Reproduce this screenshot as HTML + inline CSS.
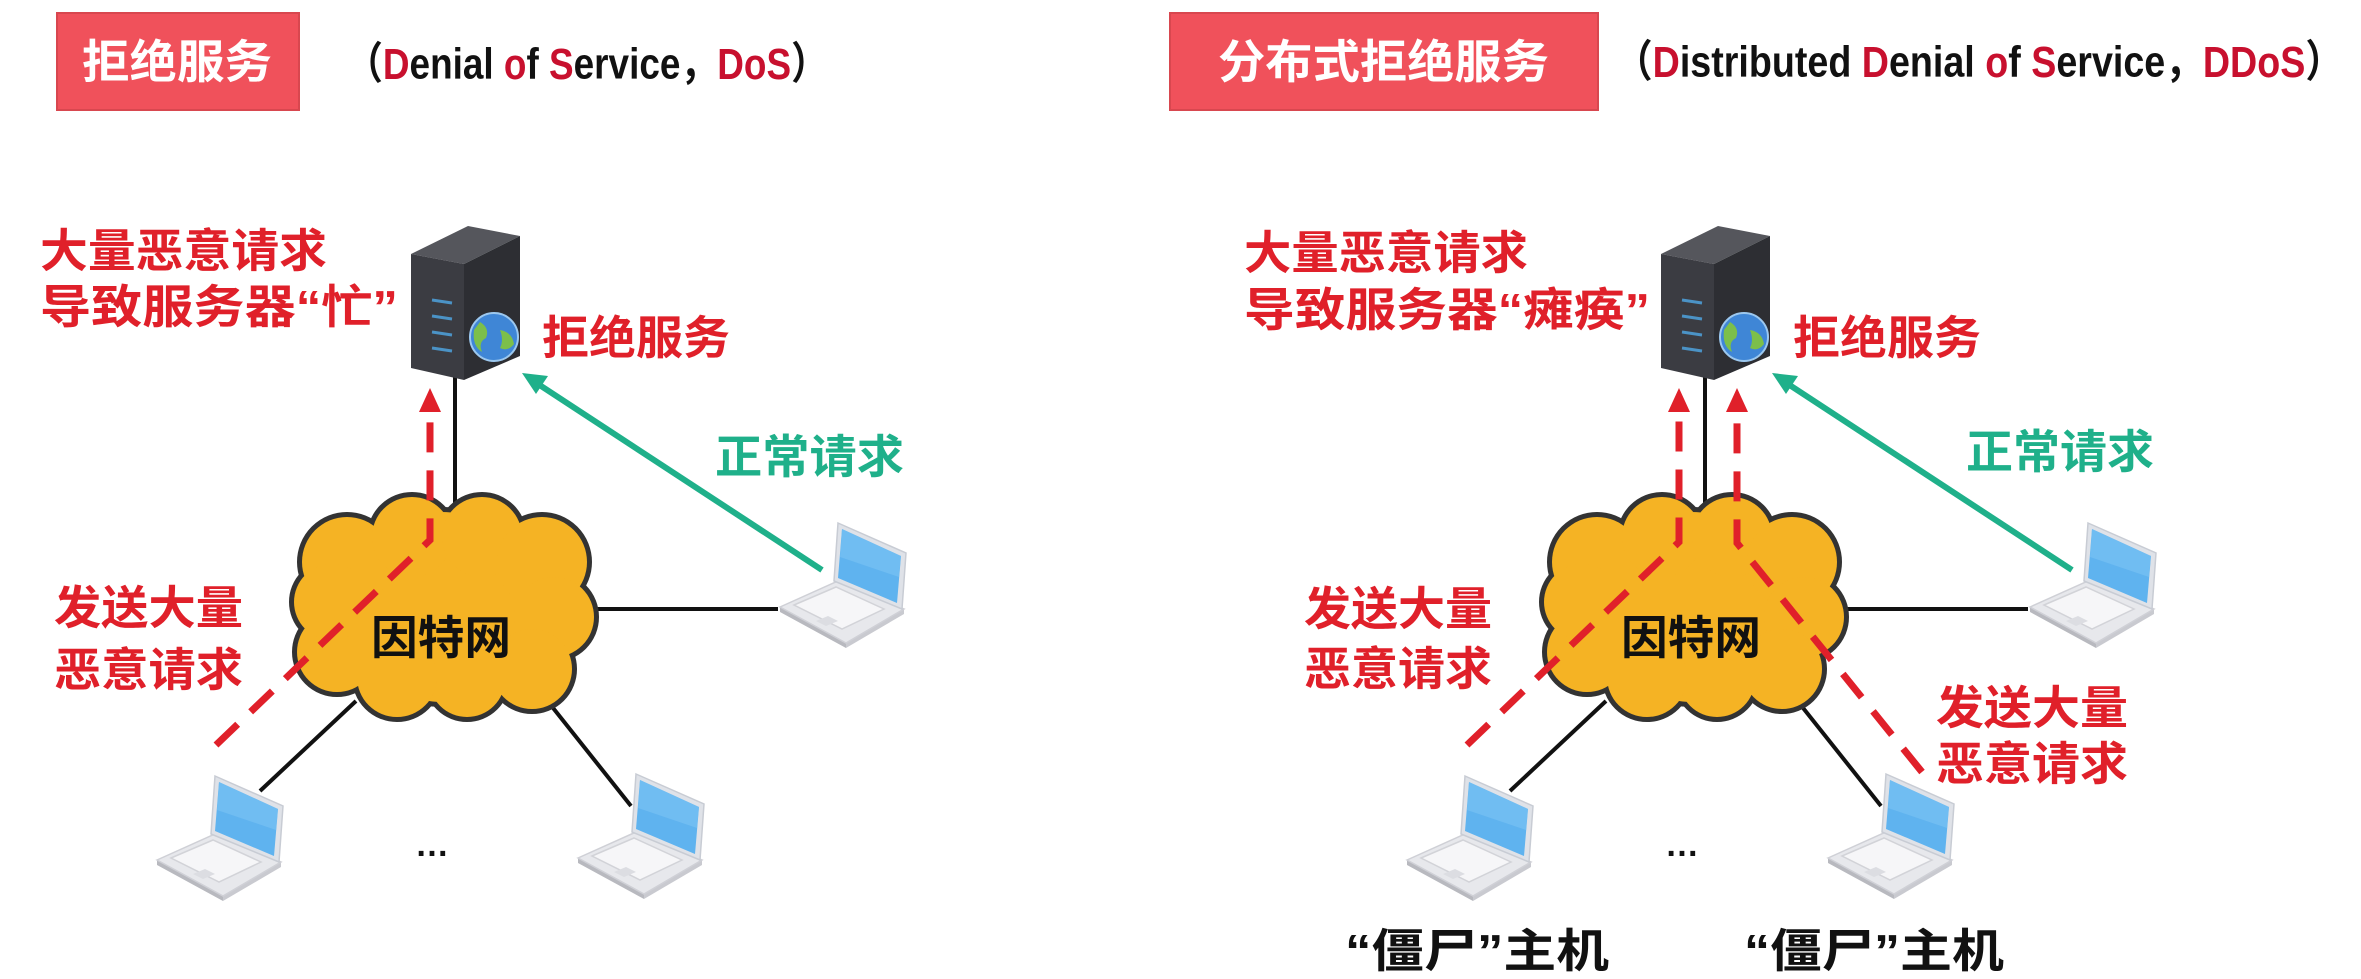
<!DOCTYPE html>
<html><head><meta charset="utf-8"><style>
html,body{margin:0;padding:0;background:#fff;}
svg{display:block;}
text{font-family:"Liberation Sans","Noto Sans CJK SC",sans-serif;font-weight:bold;}
</style></head><body>
<svg width="2361" height="979" viewBox="0 0 2361 979" xmlns="http://www.w3.org/2000/svg">
<defs>
  <g id="laptop">
    <polygon points="0,0 66,36 66,41 0,5" fill="#b8b9bf"/>
    <polygon points="66,36 124,2 124,7 66,41" fill="#c9cad0"/>
    <polygon points="0,0 58,-26 124,2 66,36" fill="#e7e8ec" stroke="#cfd0d6" stroke-width="1.5"/>
    <polygon points="14,-2 56,-20 104,2 62,22" fill="#f6f6f8" stroke="#d2d3d8" stroke-width="1.5"/>
    <polygon points="36,14 48,9 58,14 46,19" fill="#dcdde2"/>
    <polygon points="58,-84 126,-54 122,2 54,-26" fill="#dfe2e8" stroke="#c8ccd4" stroke-width="1.5"/>
    <polygon points="62,-78 121,-51 117,-4 58,-29" fill="#5fb3ef"/>
    <polygon points="62,-78 121,-51 119,-30 60,-50" fill="#7cc3f4" opacity="0.6"/>
  </g>
  <g id="server">
    <polygon points="411,254 468,226 520,236 464,264" fill="#55565c"/>
    <polygon points="411,254 464,264 464,380 411,368" fill="#3b3c42"/>
    <polygon points="464,264 520,236 520,356 464,380" fill="#2d2e33"/>
    <line x1="432" y1="300" x2="452" y2="303" stroke="#4b93c6" stroke-width="3"/>
    <line x1="432" y1="316" x2="452" y2="319" stroke="#4b93c6" stroke-width="3"/>
    <line x1="432" y1="332" x2="452" y2="335" stroke="#4b93c6" stroke-width="3"/>
    <line x1="432" y1="348" x2="452" y2="351" stroke="#4b93c6" stroke-width="3"/>
    <circle cx="494" cy="337" r="24" fill="#3f86d6"/>
    <path d="M480 322 q10 6 6 16 q-8 4 -4 14 q-10 -6 -8 -22z" fill="#7cbf4a"/>
    <path d="M500 330 q12 2 14 14 q-6 8 -14 4 q4 -8 0 -18z" fill="#7cbf4a"/>
    <circle cx="494" cy="337" r="24" fill="none" stroke="#9cc8ef" stroke-width="2"/>
  </g>
  <g id="cloud">
    <g fill="#333" stroke="#333" stroke-width="10">
      <circle cx="0" cy="0" r="95"/><circle cx="-95" cy="-45" r="45"/><circle cx="-30" cy="-70" r="40"/><circle cx="40" cy="-70" r="40"/><circle cx="100" cy="-45" r="45"/><circle cx="112" cy="10" r="40"/><circle cx="90" cy="62" r="40"/><circle cx="25" cy="72" r="38"/><circle cx="-45" cy="70" r="40"/><circle cx="-105" cy="45" r="40"/><circle cx="-110" cy="-5" r="38"/>
    </g>
    <g fill="#f5b324">
      <circle cx="0" cy="0" r="95"/><circle cx="-95" cy="-45" r="45"/><circle cx="-30" cy="-70" r="40"/><circle cx="40" cy="-70" r="40"/><circle cx="100" cy="-45" r="45"/><circle cx="112" cy="10" r="40"/><circle cx="90" cy="62" r="40"/><circle cx="25" cy="72" r="38"/><circle cx="-45" cy="70" r="40"/><circle cx="-105" cy="45" r="40"/><circle cx="-110" cy="-5" r="38"/>
    </g>
  </g>
</defs>

<!-- ===== LEFT PANEL ===== -->
<rect x="57" y="13" width="242" height="97" fill="#f0515b" stroke="#d8474f" stroke-width="2"/>
<text x="82" y="62" dominant-baseline="central" font-size="46" fill="#fff" textLength="190" lengthAdjust="spacingAndGlyphs">拒绝服务</text>
<text x="346" y="64" dominant-baseline="central" font-size="44" fill="#111" textLength="482" lengthAdjust="spacingAndGlyphs">（<tspan fill="#c8102e">D</tspan>enial <tspan fill="#c8102e">o</tspan>f <tspan fill="#c8102e">S</tspan>ervice，<tspan fill="#c8102e">DoS</tspan>）</text>

<g stroke="#111" stroke-width="4">
  <line x1="455" y1="377" x2="455" y2="505"/>
  <line x1="591" y1="609" x2="778" y2="609"/>
  <line x1="356" y1="701" x2="260" y2="791"/>
  <line x1="534" y1="684" x2="631" y2="806"/>
</g>
<use href="#server"/>
<use href="#cloud" transform="translate(442,607)"/>
<use href="#laptop" transform="translate(780,607)"/>
<use href="#laptop" transform="translate(157,860)"/>
<use href="#laptop" transform="translate(578,858)"/>
<text x="371" y="638" dominant-baseline="central" font-size="46" fill="#111" textLength="140" lengthAdjust="spacingAndGlyphs">因特网</text>
<text x="415" y="845" dominant-baseline="central" font-size="34" fill="#111">…</text>

<polyline points="216,745 430,540 430,412" fill="none" stroke="#e0202a" stroke-width="7" stroke-dasharray="30 18"/>
<polygon points="430,388 419,412 441,412" fill="#e0202a"/>
<line x1="822" y1="570" x2="538" y2="384" stroke="#1fb08a" stroke-width="6"/>
<polygon points="522,373 548,376 536,394" fill="#1fb08a"/>

<g font-size="46" fill="#e0202a">
  <text x="40" y="251" dominant-baseline="central" textLength="287" lengthAdjust="spacingAndGlyphs">大量恶意请求</text>
  <text x="40" y="307" dominant-baseline="central" textLength="358" lengthAdjust="spacingAndGlyphs">导致服务器“忙”</text>
  <text x="542" y="338" dominant-baseline="central" textLength="188" lengthAdjust="spacingAndGlyphs">拒绝服务</text>
  <text x="54" y="608" dominant-baseline="central" textLength="189" lengthAdjust="spacingAndGlyphs">发送大量</text>
  <text x="54" y="670" dominant-baseline="central" textLength="189" lengthAdjust="spacingAndGlyphs">恶意请求</text>
</g>
<text x="715" y="457" dominant-baseline="central" font-size="46" fill="#1fb08a" textLength="189" lengthAdjust="spacingAndGlyphs">正常请求</text>

<!-- ===== RIGHT PANEL ===== -->
<rect x="1170" y="13" width="428" height="97" fill="#f0515b" stroke="#d8474f" stroke-width="2"/>
<text x="1218" y="62" dominant-baseline="central" font-size="46" fill="#fff" textLength="331" lengthAdjust="spacingAndGlyphs">分布式拒绝服务</text>
<text x="1615" y="62" dominant-baseline="central" font-size="44" fill="#111" textLength="728" lengthAdjust="spacingAndGlyphs">（<tspan fill="#c8102e">D</tspan>istributed <tspan fill="#c8102e">D</tspan>enial <tspan fill="#c8102e">o</tspan>f <tspan fill="#c8102e">S</tspan>ervice，<tspan fill="#c8102e">DDoS</tspan>）</text>

<g transform="translate(1250,0)">
  <g stroke="#111" stroke-width="4">
    <line x1="455" y1="377" x2="455" y2="505"/>
    <line x1="591" y1="609" x2="778" y2="609"/>
    <line x1="356" y1="701" x2="260" y2="791"/>
    <line x1="534" y1="684" x2="631" y2="806"/>
  </g>
  <use href="#server"/>
  <use href="#cloud" transform="translate(442,607)"/>
  <use href="#laptop" transform="translate(780,607)"/>
  <use href="#laptop" transform="translate(157,860)"/>
  <use href="#laptop" transform="translate(578,858)"/>
  <text x="371" y="638" dominant-baseline="central" font-size="46" fill="#111" textLength="140" lengthAdjust="spacingAndGlyphs">因特网</text>
  <text x="415" y="845" dominant-baseline="central" font-size="34" fill="#111">…</text>
  <line x1="822" y1="570" x2="538" y2="384" stroke="#1fb08a" stroke-width="6"/>
  <polygon points="522,373 548,376 536,394" fill="#1fb08a"/>
</g>
<polyline points="1467,745 1679,542 1679,412" fill="none" stroke="#e0202a" stroke-width="7" stroke-dasharray="30 18"/>
<polygon points="1679,388 1668,412 1690,412" fill="#e0202a"/>
<polyline points="1922,772 1737,543 1737,412" fill="none" stroke="#e0202a" stroke-width="7" stroke-dasharray="30 18"/>
<polygon points="1737,388 1726,412 1748,412" fill="#e0202a"/>

<g font-size="46" fill="#e0202a">
  <text x="1244" y="253" dominant-baseline="central" textLength="284" lengthAdjust="spacingAndGlyphs">大量恶意请求</text>
  <text x="1244" y="310" dominant-baseline="central" textLength="406" lengthAdjust="spacingAndGlyphs">导致服务器“瘫痪”</text>
  <text x="1793" y="338" dominant-baseline="central" textLength="188" lengthAdjust="spacingAndGlyphs">拒绝服务</text>
  <text x="1304" y="609" dominant-baseline="central" textLength="188" lengthAdjust="spacingAndGlyphs">发送大量</text>
  <text x="1304" y="669" dominant-baseline="central" textLength="188" lengthAdjust="spacingAndGlyphs">恶意请求</text>
  <text x="1936" y="708" dominant-baseline="central" textLength="192" lengthAdjust="spacingAndGlyphs">发送大量</text>
  <text x="1936" y="764" dominant-baseline="central" textLength="192" lengthAdjust="spacingAndGlyphs">恶意请求</text>
</g>
<text x="1966" y="452" dominant-baseline="central" font-size="46" fill="#1fb08a" textLength="188" lengthAdjust="spacingAndGlyphs">正常请求</text>
<text x="1345" y="951" dominant-baseline="central" font-size="46" fill="#111" textLength="264" lengthAdjust="spacingAndGlyphs">“僵尸”主机</text>
<text x="1744" y="951" dominant-baseline="central" font-size="46" fill="#111" textLength="260" lengthAdjust="spacingAndGlyphs">“僵尸”主机</text>
</svg>
</body></html>
